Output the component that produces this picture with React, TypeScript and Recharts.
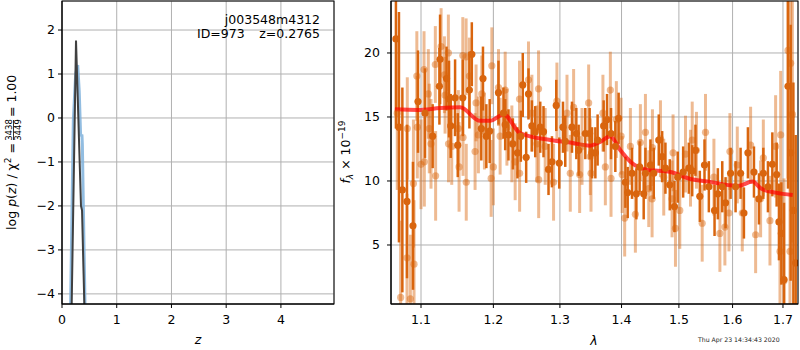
import { ComposedChart, Line, Scatter, ErrorBar, XAxis, YAxis, CartesianGrid } from "recharts";

const FONT = "DejaVu Sans";

const zTicks = [0, 1, 2, 3, 4];
const logpTicks = [-4, -3, -2, -1, 0, 1, 2];
const lamTicks = [1.1, 1.2, 1.3, 1.4, 1.5, 1.6, 1.7];
const fluxTicks = [5, 10, 15, 20];

// log p(z) curves, [z, log p]
const pzBlue = [
  [0.12, -7.4], [0.207, -0.05], [0.25, 1.0], [0.287, 1.2], [0.315, 0.6],
  [0.34, -0.39], [0.365, -0.4], [0.372, -0.6], [0.39, -2.0], [0.44, -5.7],
];
const pzGray = [
  [0.12, -8.55], [0.256, 1.76], [0.347, -2.0], [0.366, -2.1], [0.44, -5.85],
];

// spectrum, [lambda, flux, err]
const specStrong = [
  [1.0673, 21.1, 7], [1.0712, 14.2, 9], [1.0756, 9.3, 8], [1.0816, 8.4, 6], [1.0894, 6.5, 5],
  [1.096, 16.2, 4], [1.1053, 15.3, 3.5], [1.1155, 13.5, 2.5], [1.1246, 17.4, 3], [1.1255, 19.5, 3.5],
  [1.1343, 18.0, 2.5], [1.1377, 16.4, 3], [1.14, 14.3, 2.5], [1.146, 16.5, 3], [1.1497, 12.8, 2.5],
  [1.1567, 16.5, 3], [1.1659, 17.1, 3], [1.1693, 19.9, 2.5], [1.1827, 14.1, 2.5], [1.1851, 18.0, 2.5],
  [1.1899, 13.5, 2.5], [1.1947, 13.9, 2.5], [1.2074, 16.9, 2.5], [1.2147, 15.3, 2], [1.2172, 14.4, 2],
  [1.222, 13.6, 2], [1.2285, 12.9, 2], [1.2353, 12.2, 2], [1.2403, 13.5, 2], [1.2432, 17.5, 2.5],
  [1.2483, 11.85, 2], [1.2518, 16.8, 2], [1.2569, 14.3, 2], [1.262, 13.85, 2], [1.2696, 14.2, 2],
  [1.2746, 13.85, 2], [1.2823, 10.9, 2], [1.2876, 11.5, 2], [1.2943, 15.9, 2], [1.299, 11.4, 2],
  [1.3048, 14.2, 2], [1.3084, 13.1, 2], [1.319, 14.2, 2], [1.3259, 13.7, 2], [1.3296, 12.4, 2],
  [1.3403, 13.7, 2], [1.3473, 13.7, 2], [1.3512, 12.2, 2], [1.3566, 12.2, 2], [1.3603, 13.2, 2],
  [1.3702, 14.3, 2], [1.3758, 14.8, 2], [1.3824, 13.7, 2], [1.3896, 12.7, 2], [1.3951, 14.9, 2],
  [1.4065, 9.9, 2], [1.4104, 9.1, 2], [1.4178, 10.6, 2], [1.4252, 9.0, 2], [1.4308, 11.1, 2],
  [1.4378, 9.0, 2], [1.4408, 10.6, 2], [1.4495, 11.25, 2], [1.4553, 10.6, 2], [1.4641, 13.2, 2],
  [1.4701, 11.9, 2], [1.4759, 11.0, 2], [1.4836, 9.7, 2], [1.492, 8.0, 2], [1.4979, 10.3, 2],
  [1.5077, 10.7, 2], [1.518, 11.0, 2], [1.5242, 10.8, 2], [1.5302, 12.4, 2], [1.5382, 8.8, 2],
  [1.5469, 11.25, 2], [1.555, 9.55, 2], [1.5657, 7.7, 2], [1.5719, 9.0, 2], [1.5803, 9.55, 2],
  [1.5866, 8.3, 2], [1.5962, 10.6, 2], [1.6058, 9.55, 2], [1.6155, 10.6, 2], [1.622, 7.5, 2],
  [1.6298, 12.2, 2], [1.6417, 10.7, 2], [1.6516, 8.6, 2], [1.6603, 10.6, 2], [1.6695, 9.55, 2],
  [1.6784, 11.3, 2.5], [1.6871, 10.5, 2.5], [1.6918, 6.8, 3], [1.6967, 5.9, 4], [1.7021, 2.3, 6],
  [1.7103, 17.4, 8], [1.7158, 12.2, 10], [1.7214, 7.7, 10], [1.7262, 3.6, 10],
];

const specFaint = [
  [1.069, 15.3, 6], [1.0734, 0.9, 6], [1.0816, 4.0, 5], [1.082, 14.1, 4], [1.086, 0.8, 5],
  [1.09, 9.8, 5], [1.0908, 3.5, 5], [1.0945, 18.2, 3.5], [1.0951, 14.2, 4], [1.1, 11.3, 3.5],
  [1.104, 18.7, 3], [1.1044, 11.5, 3.5], [1.1097, 16.8, 3.5], [1.111, 14.1, 3.5], [1.1133, 12.9, 3.5],
  [1.1191, 19.1, 3], [1.1195, 10.4, 3.5], [1.1269, 20.5, 3], [1.1314, 18.3, 3], [1.1323, 16.7, 3],
  [1.1368, 20.0, 3], [1.137, 12.9, 3], [1.1414, 12.7, 3], [1.1505, 14.1, 3], [1.1515, 11.1, 3.5],
  [1.1567, 19.8, 3], [1.157, 13.4, 3], [1.1613, 19.7, 3], [1.1615, 9.9, 3], [1.1659, 18.2, 3],
  [1.1739, 12.3, 3], [1.1753, 16.1, 3], [1.1786, 13.6, 3], [1.1834, 16.8, 3], [1.1872, 13.9, 3],
  [1.1968, 10.2, 3], [1.1978, 19.0, 3], [1.2, 11.1, 3], [1.2074, 17.3, 3], [1.2098, 13.5, 3],
  [1.2172, 17.1, 3], [1.2197, 14.2, 3], [1.227, 12.9, 3], [1.2319, 11.5, 3], [1.2383, 16.4, 3],
  [1.2385, 10.6, 3], [1.2518, 17.9, 3], [1.2569, 15.3, 3], [1.2646, 12.9, 3], [1.267, 17.2, 3],
  [1.2672, 10.1, 3], [1.2772, 12.7, 3], [1.2901, 9.9, 3], [1.2953, 16.25, 3], [1.3111, 15.3, 3],
  [1.3163, 10.6, 3], [1.3216, 15.75, 3], [1.3312, 10.5, 3], [1.335, 12.7, 3], [1.3457, 16.1, 3],
  [1.3484, 11.9, 3], [1.3495, 10.6, 3], [1.369, 15.3, 3], [1.373, 11.1, 3], [1.3813, 17.1, 3],
  [1.3824, 10.2, 3], [1.3913, 14.8, 3], [1.3992, 13.5, 3], [1.401, 10.5, 3], [1.4053, 7.1, 3],
  [1.415, 12.7, 3], [1.4235, 7.4, 3], [1.4321, 13.0, 3], [1.4408, 13.8, 3], [1.4466, 9.4, 3],
  [1.4524, 8.6, 3], [1.453, 12.6, 3], [1.4671, 13.3, 3], [1.4729, 10.3, 3], [1.4877, 8.6, 3],
  [1.4895, 12.2, 3], [1.4938, 6.3, 3], [1.5016, 7.7, 3], [1.5119, 12.1, 3], [1.5211, 11.0, 3],
  [1.5242, 13.2, 3], [1.532, 12.4, 3], [1.5426, 6.7, 3], [1.5488, 13.8, 3], [1.5645, 10.3, 3],
  [1.5758, 5.9, 3], [1.5853, 6.4, 3], [1.593, 7.5, 3], [1.5949, 12.3, 3], [1.6091, 11.25, 3],
  [1.6188, 7.5, 3], [1.6351, 12.8, 3], [1.645, 5.8, 3], [1.6549, 8.6, 3], [1.6603, 11.8, 3],
  [1.6736, 6.9, 3.5], [1.685, 12.7, 4], [1.6939, 4.5, 5], [1.6953, 13.6, 5], [1.7021, 2.2, 8],
  [1.7103, 20.2, 10], [1.7144, 4.5, 10], [1.7158, 19.2, 10], [1.7193, 15.2, 10],
];

const modelFlux = [
  [1.066, 15.6], [1.096, 15.55], [1.126, 15.7], [1.153, 15.76], [1.181, 14.7], [1.195, 14.7],
  [1.215, 15.2], [1.239, 13.75], [1.285, 13.2], [1.316, 13.0], [1.348, 12.76], [1.365, 13.07],
  [1.381, 13.5], [1.398, 12.4], [1.415, 11.5], [1.441, 10.9], [1.485, 10.7], [1.521, 10.15],
  [1.558, 9.92], [1.596, 9.66], [1.61, 9.6], [1.639, 9.95], [1.655, 9.43], [1.685, 9.09], [1.72, 8.9],
];

const toXY = (rows: number[][]) => rows.map(([x, y, e]) => ({ x, y, e }));

const minus = (v: number) => (v < 0 ? "\u2212" + Math.abs(v) : String(v));
const tickStyle = { fill: "#000", fontSize: 12.5, fontFamily: FONT };
const ORANGE = "#d9650e";

const dot = (opacity: number) => (p: any) =>
  <circle cx={p.cx} cy={p.cy} r={3.6} fill={ORANGE} fillOpacity={opacity} />;

function PzPanel() {
  return (
    <ComposedChart width={340} height={350} margin={{ top: 1, right: 6, bottom: 16, left: 12 }}>
      <CartesianGrid stroke="#b0b0b0" />
      <XAxis type="number" dataKey="x" domain={[0, 4.97]} ticks={zTicks} allowDataOverflow
        tick={tickStyle} tickSize={4} tickMargin={7} height={30} stroke="#000" />
      <YAxis type="number" dataKey="y" domain={[-4.23, 2.66]} ticks={logpTicks} allowDataOverflow
        tick={tickStyle} tickSize={4} tickMargin={3} width={50} stroke="#000" tickFormatter={minus} />
      <Line data={toXY(pzBlue)} dataKey="y" stroke="#7fb2dc" strokeOpacity={0.85} strokeWidth={3}
        dot={false} isAnimationActive={false} />
      <Line data={toXY(pzGray)} dataKey="y" stroke="#404040" strokeWidth={2}
        dot={false} isAnimationActive={false} />
    </ComposedChart>
  );
}

function SpecPanel() {
  return (
    <ComposedChart width={460} height={350} margin={{ top: 1, right: 2, bottom: 16, left: 11 }}>
      <CartesianGrid stroke="#b0b0b0" />
      <XAxis type="number" dataKey="x" scale="log" domain={[1.061, 1.731]} ticks={lamTicks} allowDataOverflow
        tick={tickStyle} tickSize={4} tickMargin={7} height={30} stroke="#000"
        tickFormatter={(v: number) => v.toFixed(1)} />
      <YAxis type="number" dataKey="y" domain={[0.39, 24.06]} ticks={fluxTicks} allowDataOverflow
        tick={tickStyle} tickSize={4} tickMargin={7} width={40} stroke="#000" />
      <Scatter className="spec-pts" data={toXY(specFaint)} dataKey="y" shape={dot(0.45)} isAnimationActive={false}>
        <ErrorBar dataKey="e" direction="y" width={0} stroke={ORANGE} strokeOpacity={0.45} strokeWidth={3} />
      </Scatter>
      <Scatter className="spec-pts" data={toXY(specStrong)} dataKey="y" shape={dot(1)} isAnimationActive={false}>
        <ErrorBar dataKey="e" direction="y" width={0} stroke={ORANGE} strokeWidth={2.5} />
      </Scatter>
      <Line data={toXY(modelFlux)} dataKey="y" type="monotone" stroke="#ff0000" strokeOpacity={0.7}
        strokeWidth={4} dot={false} isAnimationActive={false} />
    </ComposedChart>
  );
}

export default function App() {
  return (
    <div style={{ position: "absolute", left: 0, top: 0, width: 800, height: 350, background: "#fff", fontFamily: FONT }}>
      <style>{`.spec .recharts-scatter, .spec .recharts-errorBars, .spec .spec-pts { clip-path: url(#specClip); }`}</style>
      <svg width={0} height={0} style={{ position: "absolute" }}>
        <defs>
          <clipPath id="specClip" clipPathUnits="userSpaceOnUse">
            <rect x={51} y={1} width={407} height={303} />
          </clipPath>
        </defs>
      </svg>
      <div style={{ position: "absolute", left: 0, top: 0 }}><PzPanel /></div>
      <div className="spec" style={{ position: "absolute", left: 340, top: 0 }}><SpecPanel /></div>
      <svg width={800} height={350} style={{ position: "absolute", left: 0, top: 0, pointerEvents: "none" }}
        fontFamily={FONT}>
        <rect x={62} y={1} width={272} height={303} fill="none" stroke="#000" />
        <rect x={391} y={1} width={407} height={303} fill="none" stroke="#000" />
        <text x={320} y={24} fontSize={12.5} textAnchor="end">j003548m4312</text>
        <text x={197} y={38} fontSize={12.5}>ID=973</text>
        <text x={320} y={38} fontSize={12.5} textAnchor="end">z=0.2765</text>
        <g transform="translate(0,155) rotate(-90)" fontSize={12.5}>
          <text x={12} y={16} textAnchor="end">
            log <tspan fontStyle="italic">p</tspan>(<tspan fontStyle="italic">z</tspan>) / χ<tspan dy={-5} fontSize={9}>2</tspan><tspan dy={5}> =</tspan>
          </text>
          <text x={25} y={12} fontSize={8.5} textAnchor="middle">3438</text>
          <line x1={15} x2={35} y1={13.5} y2={13.5} stroke="#000" strokeWidth={0.8} />
          <text x={25} y={21} fontSize={8.5} textAnchor="middle">3449</text>
          <text x={38} y={16}>= 1.00</text>
        </g>
        <g transform="translate(0,152) rotate(-90)" fontSize={12.5}>
          <text x={0} y={350} textAnchor="middle">
            <tspan fontStyle="italic">f</tspan><tspan dy={3} fontSize={9} fontStyle="italic">λ</tspan>
            <tspan dy={-3}> × 10</tspan><tspan dy={-5} fontSize={9}>−19</tspan>
          </text>
        </g>
        <text x={198} y={344} fontSize={12.5} fontStyle="italic" textAnchor="middle">z</text>
        <text x={594} y={345} fontSize={12.5} fontStyle="italic" textAnchor="middle">λ</text>
        <text x={698} y={342} fontSize={6.2} fill="#222">Thu Apr 23 14:34:43 2020</text>
      </svg>
    </div>
  );
}
